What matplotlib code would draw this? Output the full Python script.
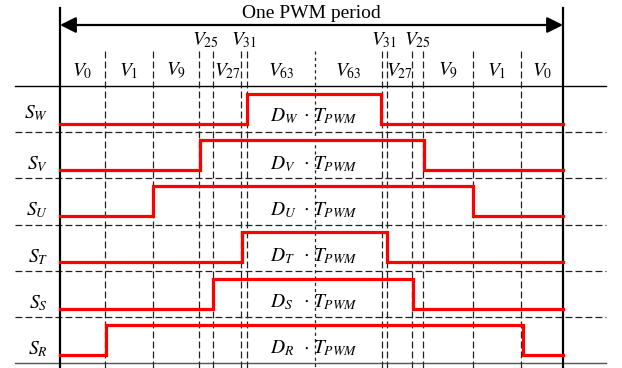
import matplotlib
matplotlib.use("Agg")
import matplotlib.pyplot as plt

# ---- data ----
signals = ["W", "V", "U", "T", "S", "R"]
rise_t = [0.372, 0.278, 0.185, 0.362, 0.304, 0.091]
fall_t = [0.638, 0.724, 0.821, 0.650, 0.702, 0.920]
edges_t = [0.0, 0.089, 0.185, 0.276, 0.304, 0.360, 0.372, 0.507,
           0.640, 0.650, 0.700, 0.722, 0.821, 0.917, 1.0]
vectors = [0, 1, 9, 25, 27, 31, 63, 63, 31, 27, 25, 9, 1, 0]
title_text = "One PWM period"

plt.rcParams["mathtext.fontset"] = "stix"
plt.rcParams["font.family"] = ["Liberation Serif", "DejaVu Serif"]

W, H = 622, 368
fig = plt.figure(figsize=(W / 100, H / 100), dpi=100)
ax = fig.add_axes([0, 0, 1, 1])
ax.axis("off")

# pixel mapping helpers (layout only)
X0, X1 = 60, 563
Y0, RH = 86, 46.17
ax.set_xlim(-X0 / (X1 - X0), (W - X0) / (X1 - X0))
ax.set_ylim((H - Y0) / RH, -Y0 / RH)
def tx(px): return (px - X0) / (X1 - X0)
def ty(px): return (px - Y0) / RH

nrows = len(signals)
ybot = (H - Y0) / RH
xl, xr = tx(15), tx(606)

# horizontal lines
ax.plot([xl, xr], [0, 0], color="black", lw=1.0)
ax.plot([xl, xr], [nrows, nrows], color="#555555", lw=1.0)
for i in range(1, nrows):
    ax.plot([xl, xr], [i, i], color="#222222", lw=0.9, ls=(0, (5.5, 2.5)))

# vertical dashed boundaries
mid = len(edges_t) // 2
for k, e in enumerate(edges_t[1:-1], start=1):
    ls = (0, (2.5, 2.5)) if k == mid else (0, (5.5, 2.5))
    ax.plot([e, e], [ty(51), ybot], color="#222222", lw=0.9, ls=ls)

# thick period boundaries
for e in (edges_t[0], edges_t[-1]):
    ax.plot([e, e], [ty(8), ybot], color="black", lw=1.6)

# arrow
ax.annotate("", xy=(edges_t[-1], ty(25)), xytext=(edges_t[0], ty(25)),
            arrowprops=dict(arrowstyle="<|-|>,head_length=0.8,head_width=0.4",
                            mutation_scale=12, color="black", lw=1.6,
                            shrinkA=0, shrinkB=0))
ax.text(0.5, ty(18), title_text, ha="center", va="baseline", fontsize=14)

# vector labels
for k, v in enumerate(vectors):
    a, b = edges_t[k], edges_t[k + 1]
    raised = (b - a) < 0.03
    y = ty(45) if raised else ty(76)
    ax.text((a + b) / 2, y, rf"$V_{{{v}}}$", ha="center", va="baseline",
            fontsize=14)

# signals
for i, (s, r, f) in enumerate(zip(signals, rise_t, fall_t)):
    lo, hi = i + 0.82, i + 0.17
    ax.plot([edges_t[0], r, r, f, f, edges_t[-1]],
            [lo, lo, hi, hi, lo, lo], color="#ff0000", lw=2.3,
            solid_joinstyle="miter")
    yb = i + (0.70 if s == "W" else 0.81)
    ax.text(tx(48), yb, rf"$S_{{{s}}}$", ha="right", va="baseline", fontsize=14)
    yd = i + (0.76 if s == "W" else 0.80)
    ax.text(tx(270), yd, rf"$D_{{{s}}}$", ha="left", va="baseline", fontsize=14)
    ax.text(tx(306), yd - 0.15, r"$\cdot$", ha="center", va="center", fontsize=14)
    ax.text(tx(313), yd, r"$T_{PWM}$", ha="left", va="baseline", fontsize=14)

fig.savefig("out.png", dpi=100)
